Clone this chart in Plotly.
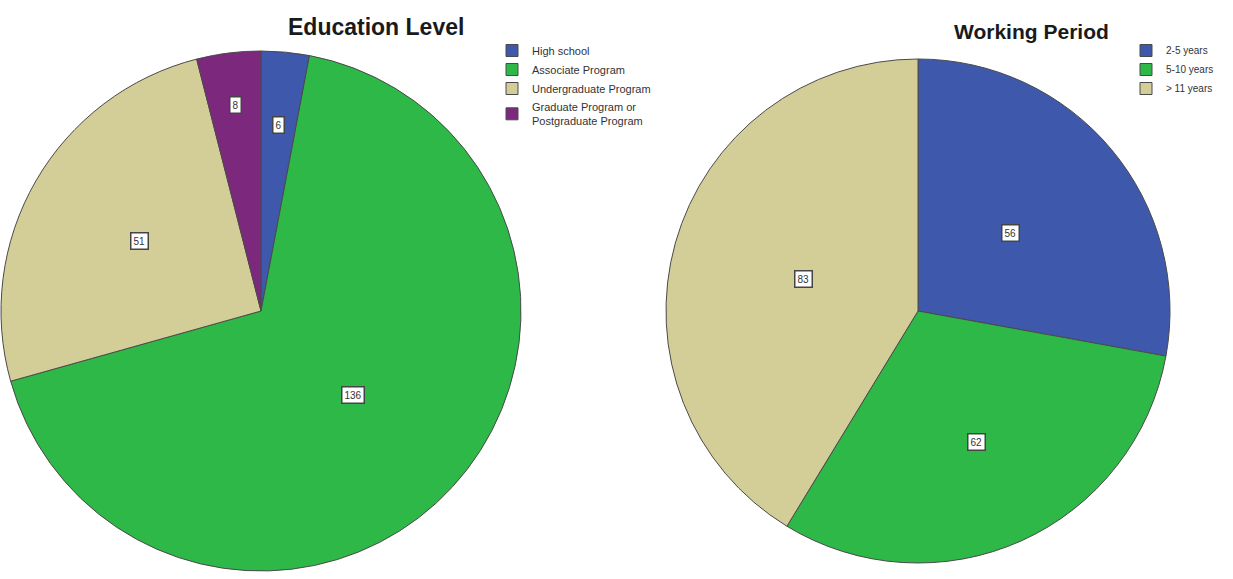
import math
import plotly.graph_objects as go

W, H = 1233, 579

# ---- data ----
edu_labels = ["High school", "Associate Program", "Undergraduate Program",
              "Graduate Program or<br>Postgraduate Program"]
edu_values = [6, 136, 51, 8]
work_labels = ["2-5 years", "5-10 years", "> 11 years"]
work_values = [56, 62, 83]

# ---- style ----
edu_colors = ["#3E58AC", "#2EB848", "#D3CE97", "#7C287D"]
work_colors = ["#3E58AC", "#2EB848", "#D3CE97"]
line_col = "#4a4a4a"

# pie geometry in pixels (center x, center y from top, radius)
edu_geo = (261, 311, 260)
work_geo = (918, 311, 252)
# radial placement fraction of value boxes
edu_frac = [0.72, 0.48, 0.54, 0.80]
work_frac = [0.48, 0.57, 0.47]


def domain(geo):
    cx, cy, r = geo
    cyb = H - cy
    clamp = lambda v: min(1.0, max(0.0, v))
    return dict(x=[clamp((cx - r) / W), clamp((cx + r) / W)],
                y=[clamp((cyb - r) / H), clamp((cyb + r) / H)])


fig = go.Figure()
fig.add_trace(go.Pie(labels=edu_labels, values=edu_values, sort=False,
                     direction="clockwise", rotation=0,
                     marker=dict(colors=edu_colors, line=dict(color=line_col, width=1)),
                     textinfo="none", hoverinfo="label+value",
                     domain=domain(edu_geo), legend="legend"))
fig.add_trace(go.Pie(labels=work_labels, values=work_values, sort=False,
                     direction="clockwise", rotation=0,
                     marker=dict(colors=work_colors, line=dict(color=line_col, width=1)),
                     textinfo="none", hoverinfo="label+value",
                     domain=domain(work_geo), legend="legend2"))


def value_boxes(values, geo, fracs):
    cx, cy, r = geo
    total = sum(values)
    cum = 0
    out = []
    for v, f in zip(values, fracs):
        mid = (cum + v / 2) / total * 2 * math.pi
        cum += v
        px = cx + math.sin(mid) * f * r
        py = cy - math.cos(mid) * f * r
        out.append(dict(x=px / W, y=(H - py) / H, xref="paper", yref="paper",
                        xanchor="center", yanchor="middle",
                        text=str(v), showarrow=False,
                        font=dict(family="Arial", size=10, color="#333"),
                        bgcolor="white", bordercolor="#444", borderwidth=1.5,
                        borderpad=2))
    return out


annos = value_boxes(edu_values, edu_geo, edu_frac) + value_boxes(work_values, work_geo, work_frac)
annos.append(dict(x=376 / W, y=(H - 27) / H, xref="paper", yref="paper",
                  xanchor="center", yanchor="middle",
                  text="<b>Education Level</b>", showarrow=False,
                  font=dict(family="Arial", size=23, color="#1a1a1a")))
annos.append(dict(x=1031 / W, y=(H - 31) / H, xref="paper", yref="paper",
                  xanchor="center", yanchor="middle",
                  text="<b>Working Period</b>", showarrow=False,
                  font=dict(family="Arial", size=21, color="#1a1a1a")))

fig.update_layout(
    width=W, height=H,
    margin=dict(l=0, r=0, t=0, b=0),
    paper_bgcolor="white", plot_bgcolor="white",
    annotations=annos,
    legend=dict(x=492 / W, y=(H - 36) / H, xanchor="left", yanchor="top",
                font=dict(family="Arial", size=11, color="#333"),
                bgcolor="rgba(0,0,0,0)", itemwidth=30),
    legend2=dict(x=1126 / W, y=(H - 36) / H, xanchor="left", yanchor="top",
                 font=dict(family="Arial", size=10, color="#333"),
                 bgcolor="rgba(0,0,0,0)", itemwidth=30),
)

fig.write_html("out.html")
